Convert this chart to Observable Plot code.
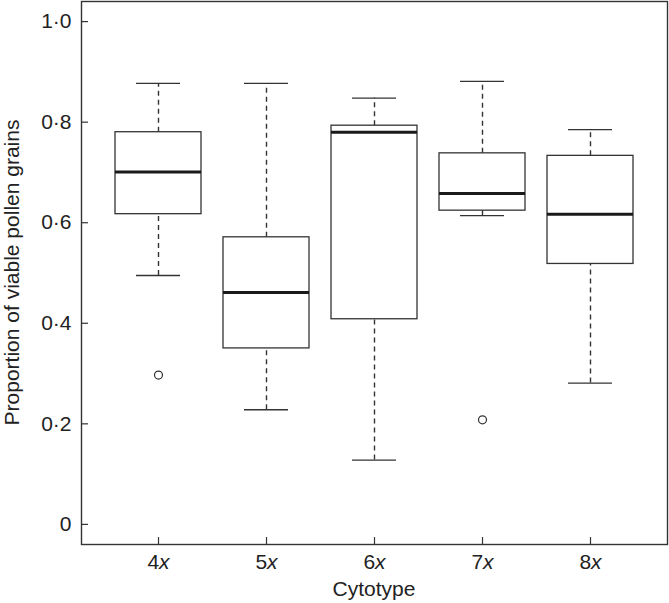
<!DOCTYPE html>
<html>
<head>
<meta charset="utf-8">
<script src="https://cdn.jsdelivr.net/npm/d3@7"></script>
<script src="https://cdn.jsdelivr.net/npm/@observablehq/plot@0.6"></script>
<style>
  html, body { margin: 0; padding: 0; background: #fff; }
  #chart svg { display: block; }
</style>
</head>
<body>
<div id="chart"></div>
<script>
// ---- data ----
const cytotypes   = ["4x", "5x", "6x", "7x", "8x"];
const whiskerLow  = [0.495, 0.228, 0.128, 0.614, 0.281];
const quartile1   = [0.617, 0.350, 0.408, 0.624, 0.518];
const medians     = [0.701, 0.461, 0.780, 0.658, 0.617];
const quartile3   = [0.780, 0.571, 0.793, 0.738, 0.733];
const whiskerHigh = [0.877, 0.877, 0.848, 0.881, 0.785];
const outlierCytotype = ["4x", "7x"];
const outlierValue    = [0.297, 0.208];
const yTicks = [0, 0.2, 0.4, 0.6, 0.8, 1.0];
const xTitle = "Cytotype";
const yTitle = "Proportion of viable pollen grains";

const boxes = cytotypes.map((c, i) => ({
  c, lo: whiskerLow[i], q1: quartile1[i], med: medians[i], q3: quartile3[i], hi: whiskerHigh[i]
}));
const outliers = outlierCytotype.map((c, i) => ({c, v: outlierValue[i]}));

const ink = "#333";
const W = 669, H = 603;
const mL = 81, mT = 1, mR = 2, mB = 59;

const fmtY = d => d === 0 ? "0" : d.toFixed(1).replace(".", "\u00B7");

const plot = Plot.plot({
  width: W, height: H,
  marginLeft: mL, marginTop: mT, marginRight: mR, marginBottom: mB,
  style: "font-family: 'Liberation Sans', Arial, Helvetica, sans-serif; font-size: 21px; color: #333; background: #fff;",
  x: {type: "band", domain: cytotypes, paddingInner: 0.2, paddingOuter: 0.3, axis: null},
  y: {domain: [-0.04, 1.04], axis: null},
  marks: [
    // whiskers (dashed)
    Plot.ruleX(boxes, {x: "c", y1: "q3", y2: "hi", stroke: ink, strokeWidth: 1.4, strokeDasharray: "5,4"}),
    Plot.ruleX(boxes, {x: "c", y1: "lo", y2: "q1", stroke: ink, strokeWidth: 1.4, strokeDasharray: "5,4"}),
    // whisker caps
    Plot.tickY(boxes, {x: "c", y: "hi", stroke: ink, strokeWidth: 1.3, insetLeft: 21, insetRight: 21}),
    Plot.tickY(boxes, {x: "c", y: "lo", stroke: ink, strokeWidth: 1.3, insetLeft: 21, insetRight: 21}),
    // boxes
    Plot.barY(boxes, {x: "c", y1: "q1", y2: "q3", fill: "white", stroke: ink, strokeWidth: 1.3}),
    // medians
    Plot.tickY(boxes, {x: "c", y: "med", stroke: "#1a1a1a", strokeWidth: 3}),
    // outliers
    Plot.dot(outliers, {x: "c", y: "v", r: 4, stroke: ink, strokeWidth: 1.2, fill: "white"}),
    // inward tick marks
    Plot.axisY({ticks: yTicks, anchor: "left", tickSize: 7, dx: 7, tickFormat: () => "", stroke: ink, strokeWidth: 1.2, label: null}),
    Plot.axisX({anchor: "bottom", tickSize: 7, dy: -7, tickFormat: () => "", stroke: ink, strokeWidth: 1.2, label: null}),
    // tick labels
    Plot.axisY({ticks: yTicks, anchor: "left", tickSize: 0, tickPadding: 10, tickFormat: fmtY, fill: "#222", label: null}),
    Plot.axisX({anchor: "bottom", tickSize: 0, tickPadding: 10, tickFormat: d => d, fill: "#222", label: null}),
    Plot.frame({stroke: ink, strokeWidth: 1.4})
  ]
});

// italic "x" in the cytotype tick labels
d3.select(plot).selectAll("g[aria-label='x-axis tick label'] text").each(function() {
  const t = d3.select(this).text();
  if (!t) return;
  const sel = d3.select(this);
  sel.text(null);
  sel.append("tspan").text(t.slice(0, -1));
  sel.append("tspan").attr("font-style", "italic").text(t.slice(-1));
});

// axis titles
const svg = d3.select(plot);
svg.append("text")
  .attr("x", (mL + (W - mR)) / 2).attr("y", 596)
  .attr("text-anchor", "middle").attr("fill", "#222")
  .text(xTitle);
svg.append("text")
  .attr("transform", `translate(19,${(mT + (H - mB)) / 2}) rotate(-90)`)
  .attr("text-anchor", "middle").attr("fill", "#222")
  .text(yTitle);

document.getElementById("chart").appendChild(plot);
</script>
</body>
</html>
